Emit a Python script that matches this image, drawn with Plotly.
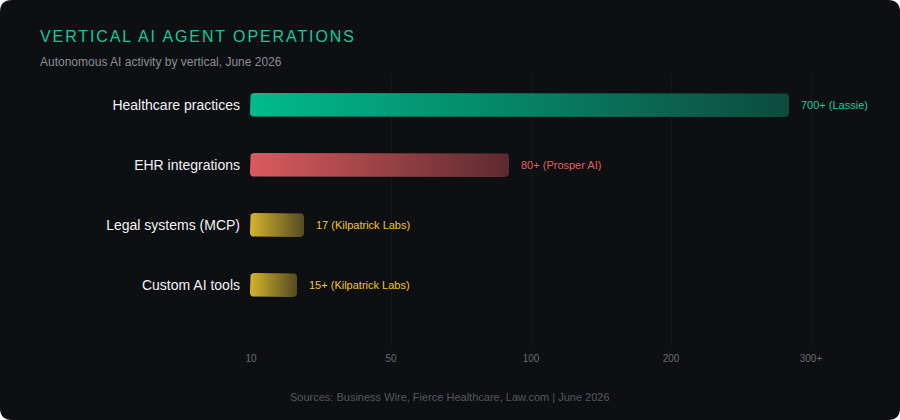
import numpy as np
import plotly.graph_objects as go

# ---- data ----
categories = ["Healthcare practices", "EHR integrations", "Legal systems (MCP)", "Custom AI tools"]
value_labels = ["700+ (Lassie)", "80+ (Prosper AI)", "17 (Kilpatrick Labs)", "15+ (Kilpatrick Labs)"]
# bar length on the chart's index scale (0 = "10", 1 = "50", 2 = "100", 3 = "200", 4 = "300+")
bar_extent = [3.843, 1.843, 0.379, 0.329]
tick_labels = ["10", "50", "100", "200", "300+"]
bar_colors = ["#00bb8c", "#da5b5e", "#d4b42e", "#d4b42e"]
bar_end_colors = ["#0d4b3c", "#5c2a2f", "#554a22", "#554a22"]
label_colors = ["#1ccb9c", "#e2605f", "#f3c623", "#f3c623"]

W, H = 900, 420
BG = "#0e0f13"

# pixel geometry of the plotting area
x_px0, px_per_x = 251, 140.0
x_left_px, x_right_px = 250, 860
y_top_px, y_bot_px, px_per_y = 75, 347, 60.0
y_top_val = -0.5
y_bot_val = y_top_val + (y_bot_px - y_top_px) / px_per_y

fig = go.Figure()

half_h = 12 / px_per_y
rx, ry = 4 / px_per_x, 4 / px_per_y


def rounded_rect(x0, x1, yc):
    y0, y1 = yc - half_h, yc + half_h
    t = np.linspace(0, np.pi / 2, 7)
    xs, ys = [], []
    for cx, cy, a0 in [(x1 - rx, y1 - ry, 0), (x0 + rx, y1 - ry, np.pi / 2),
                       (x0 + rx, y0 + ry, np.pi), (x1 - rx, y0 + ry, 1.5 * np.pi)]:
        xs.extend(cx + rx * np.cos(a0 + t))
        ys.extend(cy + ry * np.sin(a0 + t))
    xs.append(xs[0]); ys.append(ys[0])
    return xs, ys


x_base = (x_left_px - x_px0) / px_per_x
for i, (cat, ext) in enumerate(zip(categories, bar_extent)):
    xs, ys = rounded_rect(x_base, ext, i)
    fig.add_trace(go.Scatter(
        x=xs, y=ys, mode="lines", fill="toself",
        line=dict(width=0, color="rgba(0,0,0,0)"),
        fillgradient=dict(type="horizontal",
                          colorscale=[[0, bar_colors[i]], [1, bar_end_colors[i]]]),
        hoverinfo="skip", showlegend=False,
    ))
    fig.add_annotation(
        x=ext, y=i, xref="x", yref="y", text=value_labels[i], showarrow=False,
        xanchor="left", yanchor="middle", xshift=10,
        font=dict(size=11, color=label_colors[i], family="Liberation Sans, Arial, sans-serif"),
    )

fig.update_layout(
    width=W, height=H,
    margin=dict(l=0, r=0, t=0, b=0, pad=0),
    paper_bgcolor="white",
    plot_bgcolor="rgba(0,0,0,0)",
    font=dict(family="Liberation Sans, Arial, sans-serif"),
    xaxis=dict(
        domain=[x_left_px / W, x_right_px / W],
        range=[(x_left_px - x_px0) / px_per_x, (x_right_px - x_px0) / px_per_x],
        tickvals=list(range(len(tick_labels))), ticktext=tick_labels,
        tickfont=dict(size=10, color="#686b71"),
        showgrid=True, gridcolor="#15161a", gridwidth=1,
        zeroline=False, showline=False, ticks="", fixedrange=True,
        ticklabelstandoff=4, automargin=False,
    ),
    yaxis=dict(
        domain=[(H - y_bot_px) / H, (H - y_top_px) / H],
        range=[y_bot_val, y_top_val],
        tickvals=list(range(len(categories))), ticktext=categories,
        tickfont=dict(size=14, color="#f2f3f5"),
        showgrid=False, zeroline=False, showline=False, ticks="",
        ticklabelstandoff=9, fixedrange=True, automargin=False,
    ),
    shapes=[dict(
        type="path", xref="paper", yref="paper", layer="below",
        path=("M {a},0 L {b},0 Q 1,0 1,{c} L 1,{d} Q 1,1 {b},1 L {a},1 Q 0,1 0,{d} L 0,{c} Q 0,0 {a},0 Z"
              .format(a=12 / W, b=1 - 12 / W, c=12 / H, d=1 - 12 / H)),
        fillcolor=BG, line=dict(width=0),
    )],
    annotations=list(fig.layout.annotations) + [
        dict(x=38 / W, y=1 - 36 / H, xref="paper", yref="paper", xanchor="left", yanchor="middle",
             text='<span style="letter-spacing:1.9px">VERTICAL AI AGENT OPERATIONS</span>',
             showarrow=False,
             font=dict(size=16, color="#14c99b", weight=500)),
        dict(x=38 / W, y=1 - 62 / H, xref="paper", yref="paper", xanchor="left", yanchor="middle",
             text="Autonomous AI activity by vertical, June 2026", showarrow=False,
             font=dict(size=12, color="#8b8e94")),
        dict(x=0.5, y=1 - 397 / H, xref="paper", yref="paper", xanchor="center", yanchor="middle",
             text="Sources: Business Wire, Fierce Healthcare, Law.com | June 2026", showarrow=False,
             font=dict(size=11, color="#55585e")),
    ],
)

fig.write_html("out.html")
